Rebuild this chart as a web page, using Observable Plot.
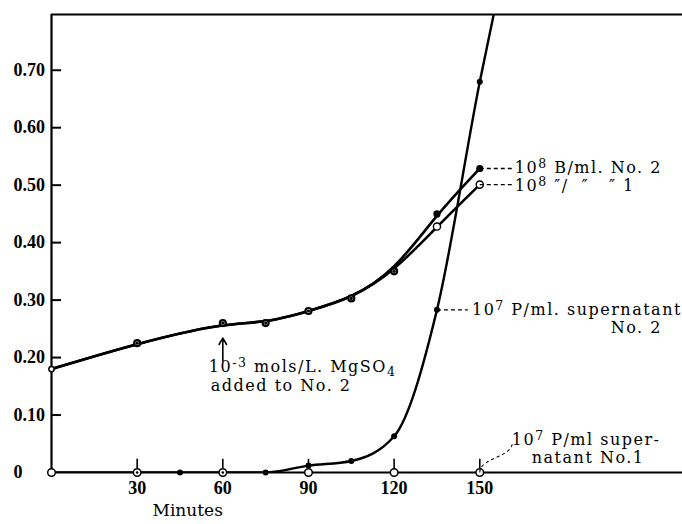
<!DOCTYPE html>
<html><head><meta charset="utf-8">
<script src="https://cdn.jsdelivr.net/npm/d3@7"></script>
<script src="https://cdn.jsdelivr.net/npm/@observablehq/plot@0.6"></script>
<style>
body{margin:0;background:#fff;}
#chart svg{display:block;}
#chart g[font-family="DejaVu Serif"][font-size="16"] text{letter-spacing:1.5px;}
</style>
</head><body><div id="chart"></div>
<script>
// ---- data ----
const minutesB = [0, 30, 60, 75, 90, 105, 120, 135, 150];
const bNo2 = [0.18, 0.225, 0.26, 0.26, 0.281, 0.303, 0.35, 0.45, 0.529];
const bNo1 = [0.18, 0.225, 0.26, 0.26, 0.281, 0.303, 0.35, 0.428, 0.501];
const minutesP2 = [0, 30, 45, 60, 75, 90, 105, 120, 135, 150];
const pNo2 = [0, 0, 0, 0, 0, 0.012, 0.02, 0.063, 0.283, 0.68];
const p2Beyond = [{t: 160, v: 0.92}]; // curve continues off the top
const minutesP1 = [0, 30, 60, 90, 120, 150];
const pNo1 = [0, 0, 0, 0, 0, 0];
const xTicks = [30, 60, 90, 120, 150];
const yTicks = [0, 0.1, 0.2, 0.3, 0.4, 0.5, 0.6, 0.7];
const yTickLabels = ["0", "0.10", "0.20", "0.30", "0.40", "0.50", "0.60", "0.70"];

const B2 = minutesB.map((t, i) => ({t, v: bNo2[i]}));
const B1 = minutesB.map((t, i) => ({t, v: bNo1[i]}));
const P2 = minutesP2.map((t, i) => ({t, v: pNo2[i]}));
const P2line = P2.concat(p2Beyond);
const P1 = minutesP1.map((t, i) => ({t, v: pNo1[i]}));
const shared = B2.filter(d => d.t <= 120);

const yMax = 0.797, xMax = 221;
const ann = "DejaVu Serif";
const annStyle = {fontFamily: ann, fontSize: 16, fill: "black"};

const chart = Plot.plot({
  width: 682, height: 524,
  marginLeft: 51, marginRight: 0, marginTop: 14, marginBottom: 52,
  style: {background: "white", color: "black"},
  x: {domain: [0, xMax]},
  y: {domain: [0, yMax]},
  marks: [
    // frame
    Plot.ruleY([0], {stroke: "black", strokeWidth: 2.2}),
    Plot.ruleY([yMax], {stroke: "black", strokeWidth: 2}),
    Plot.ruleX([0], {stroke: "black", strokeWidth: 2.2}),
    // inner y ticks
    Plot.ruleY(yTicks.filter(d => d > 0), {x1: 0, x2: 3.5, stroke: "black", strokeWidth: 2}),
    Plot.axisY({ticks: yTicks, tickFormat: d => yTickLabels[yTicks.indexOf(d)], tickSize: 0, tickPadding: 38,
      textAnchor: "start", fontFamily: "Liberation Serif", fontWeight: "bold", fontSize: 18, label: null}),
    Plot.axisX({ticks: xTicks, tickSize: 0, tickPadding: 9, fontFamily: "Liberation Serif", fontWeight: "bold",
      fontSize: 18, label: null}),
    // curves
    Plot.line(B2, {x: "t", y: "v", curve: "basis", stroke: "black", strokeWidth: 2.6}),
    Plot.line(B1, {x: "t", y: "v", curve: "basis", stroke: "black", strokeWidth: 2.6}),
    Plot.line(P2line, {x: "t", y: "v", curve: "monotone-x", stroke: "black", strokeWidth: 2.4, clip: true}),
    // P2 dots
    Plot.dot(P2, {x: "t", y: "v", r: 3, fill: "black"}),
    // P1 markers with small ticks
    Plot.ruleX(P1.filter(d => d.t > 0), {x: "t", y1: "v", y2: d => d.v + 0.023, stroke: "black", strokeWidth: 1.6}),
    Plot.dot(P1, {x: "t", y: "v", r: 3.8, stroke: "black", strokeWidth: 1.5, fill: "white"}),
    Plot.dot(P1.filter(d => d.t > 0 && d.t < 90), {x: "t", y: "v", r: 1.3, fill: "black"}),
    // B markers
    Plot.dot(shared, {x: "t", y: "v", r: d => d.t === 0 ? 3.8 : 4.8, stroke: "black", strokeWidth: d => d.t === 0 ? 1.5 : 2.2, fill: "white"}),
    Plot.dot(shared.filter(d => d.t > 0), {x: "t", y: "v", r: 1.6, fill: "black"}),
    Plot.dot(B2.filter(d => d.t > 120), {x: "t", y: "v", r: 3.6, fill: "black"}),
    Plot.dot(B1.filter(d => d.t > 120), {x: "t", y: "v", r: 3.6, stroke: "black", strokeWidth: 1.4, fill: "white"}),
    // leaders
    Plot.link([B2[B2.length - 1], B1[B1.length - 1]], {x1: "t", y1: "v", x2: d => d.t + 11.5, y2: "v", stroke: "black", strokeWidth: 1.3, strokeDasharray: "4,3"}),
    Plot.link([P2[8]], {x1: "t", y1: "v", x2: d => d.t + 10.8, y2: "v", stroke: "black", strokeWidth: 1.3, strokeDasharray: "4,3"}),
    Plot.link([P1[5]], {x1: "t", y1: "v", x2: d => d.t + 11.4, y2: d => d.v + 0.052, curve: "bump-y", stroke: "black", strokeWidth: 1.1, strokeDasharray: "3,3"}),
    // labels  ({n} = superscript, _{n} = subscript)
    Plot.text([B2[B2.length - 1]], {x: "t", y: "v", dx: 35, dy: -1, text: () => "10{8} B/ml. No. 2", textAnchor: "start", ...annStyle}),
    Plot.text([B1[B1.length - 1]], {x: "t", y: "v", dx: 35, dy: 1, text: () => "10{8} \u2033/  \u2033   \u2033 1", textAnchor: "start", ...annStyle}),
    Plot.text([P2[8]], {x: "t", y: "v", dx: 35, text: () => "10{7} P/ml. supernatant", textAnchor: "start", ...annStyle}),
    Plot.text([P2[8]], {x: "t", y: "v", dx: 225, dy: 18, text: () => "No. 2", textAnchor: "end", ...annStyle}),
    Plot.text([P1[5]], {x: "t", y: "v", dx: 32, dy: -33, text: () => "10{7} P/ml super-", textAnchor: "start", ...annStyle}),
    Plot.text([P1[5]], {x: "t", y: "v", dx: 52, dy: -15, text: () => "natant No.1", textAnchor: "start", ...annStyle}),
    // MgSO4 note
    Plot.arrow([B2[2]], {x1: "t", x2: "t", y1: d => d.v - 0.066, y2: d => d.v - 0.026, stroke: "black", strokeWidth: 1.6, headLength: 7}),
    Plot.text([B2[2]], {x: "t", y: "v", dx: -14, dy: 44, text: () => "10{-3} mols/L. MgSO_{4}", textAnchor: "start", ...annStyle}),
    Plot.text([B2[2]], {x: "t", y: "v", dx: -12, dy: 63, text: () => "added to No. 2", textAnchor: "start", ...annStyle}),
    Plot.text(["Minutes"], {frameAnchor: "bottom-left", dx: 101, dy: 43, text: d => d, textAnchor: "start", fontFamily: ann, fontSize: 17, fill: "black"})
  ]
});

// turn {..} / _{..} into raised / lowered tspans
d3.select(chart).selectAll("text").each(function() {
  const s = this.textContent;
  if (!/[{}]/.test(s)) return;
  const el = d3.select(this);
  el.text(null);
  const re = /(_?)\{([^}]*)\}/g;
  let last = 0, m, reset = null;
  const plain = str => {
    if (!str) return;
    const t = el.append("tspan").text(str);
    if (reset) { t.attr("dy", reset); reset = null; }
  };
  while ((m = re.exec(s))) {
    plain(s.slice(last, m.index));
    const sub = m[1] === "_";
    const t = el.append("tspan").attr("font-size", "78%").text(m[2]);
    t.attr("dy", sub ? "0.3em" : "-0.4em");
    reset = sub ? "-0.23em" : "0.31em";
    last = re.lastIndex;
  }
  plain(s.slice(last));
});
document.getElementById("chart").appendChild(chart);
</script>
</body></html>
